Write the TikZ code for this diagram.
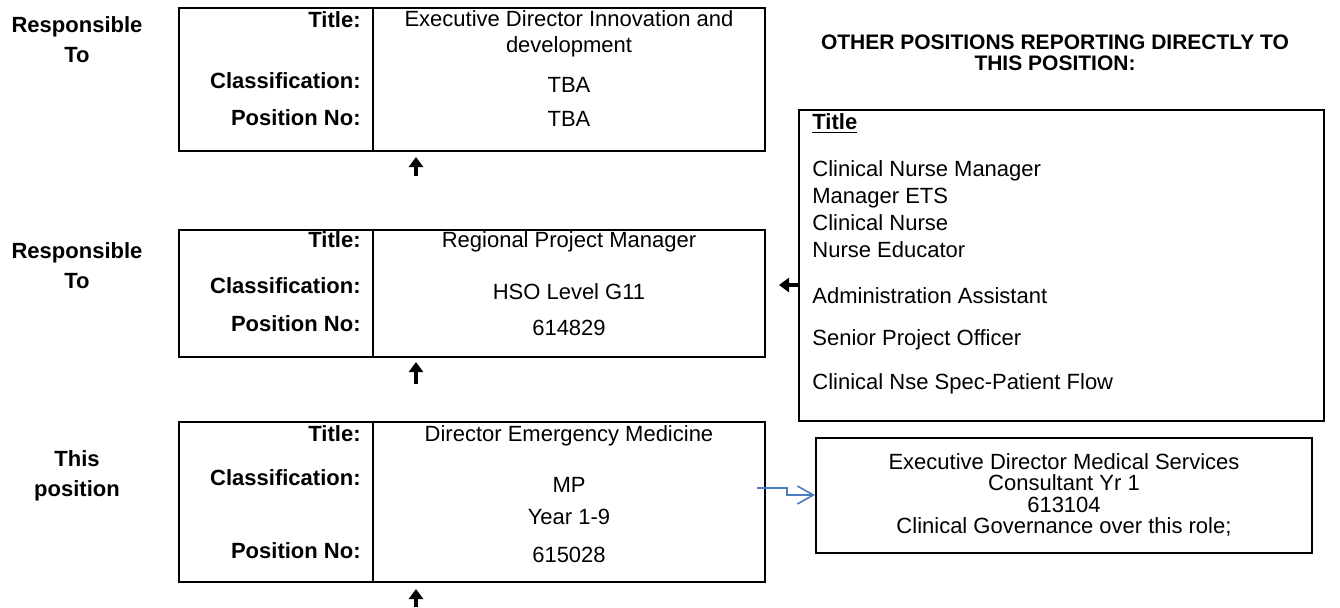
\documentclass[tikz,border=0pt]{standalone}
\usepackage{fontspec}
\setmainfont{Liberation Sans}
\usetikzlibrary{arrows.meta}
\newcommand{\pxu}{0.5pt}
\definecolor{linkblue}{RGB}{74,126,193}

\tikzset{
  frame/.style={line width=1pt},
  side/.style={font=\bfseries\fontsize{11}{15}\selectfont, align=center, inner sep=0pt},
  key/.style={font=\bfseries\fontsize{11}{13}\selectfont, anchor=east, inner sep=0pt},
  val/.style={font=\fontsize{11}{13}\selectfont, align=center, inner sep=0pt},
  item/.style={font=\fontsize{11}{13.5}\selectfont, anchor=west, align=left, inner sep=0pt},
  uparr/.style={line width=1.8pt, -{Triangle[width=7pt,length=5pt]}},
  link/.style={linkblue, line width=0.8pt, -{Straight Barb[width=9pt,length=8pt]}}
}

\begin{document}
\begin{tikzpicture}[x=\pxu,y=-\pxu]
			\useasboundingbox (0,0) rectangle (1340,607);
			
			\node[side] (resp1) at (77,40) {Responsible\\To};
			\draw[frame] (179,8) rectangle (765,151);
			\draw[frame] (373,8) -- (373,151);
			\node[key] (title1) at (361,20) {Title:};
			\node[key] (class1) at (361,81) {Classification:};
			\node[key] (posno1) at (361,118) {Position No:};
			\node[val] (tval1) at (569,34) {Executive Director Innovation and\\development};
			\node[val] (cval1) at (569,85) {TBA};
			\node[val] (pval1) at (569,119) {TBA};
			\coordinate (up1a) at (416,176);
			\coordinate (up1b) at (416,157);
			\draw[uparr] (up1a) -- (up1b);
			
			\node[side] (resp2) at (77,266) {Responsible\\To};
			\draw[frame] (179,230) rectangle (765,357);
			\draw[frame] (373,230) -- (373,357);
			\node[key] (title2) at (361,240) {Title:};
			\node[key] (class2) at (361,286) {Classification:};
			\node[key] (posno2) at (361,324) {Position No:};
			\node[val] (tval2) at (569,242) {Regional Project Manager};
			\node[val] (cval2) at (569,292) {HSO Level G11};
			\node[val] (pval2) at (569,328) {614829};
			\coordinate (up2a) at (416,384);
			\coordinate (up2b) at (416,362);
			\draw[uparr] (up2a) -- (up2b);
			
			\node[side] (this) at (77,476) {This\\position};
			\draw[frame] (179,422) rectangle (765,582);
			\draw[frame] (373,422) -- (373,582);
			\node[key] (title3) at (361,434) {Title:};
			\node[key] (class3) at (361,478) {Classification:};
			\node[key] (posno3) at (361,551) {Position No:};
			\node[val] (tval3) at (569,436) {Director Emergency Medicine};
			\node[val] (cval3) at (569,485) {MP};
			\node[val] (yval3) at (569,517) {Year 1-9};
			\node[val] (pval3) at (569,555) {615028};
			\coordinate (up3a) at (416,607);
			\coordinate (up3b) at (416,589);
			\draw[uparr] (up3a) -- (up3b);
			
			\node[side, font=\bfseries\fontsize{10.5}{10.5}\selectfont] (head) at (1055,53) {OTHER POSITIONS REPORTING DIRECTLY TO\\THIS POSITION:};
			\node[draw, frame, minimum width=525*\pxu, minimum height=311*\pxu] (others) at (1061.5,265.5) {};
			\node[item, font=\bfseries\fontsize{11}{13}\selectfont] (ttl) at (812,124) {\underline{Title}};
			\node[item] (nurses) at (812,209) {Clinical Nurse Manager\\Manager ETS\\Clinical Nurse\\Nurse Educator};
			\node[item] (admin) at (812,296) {Administration Assistant};
			\node[item] (spo) at (812,340) {Senior Project Officer};
			\node[item] (cnse) at (812,384) {Clinical Nse Spec-Patient Flow};
			\coordinate (left1) at (799,285);
			\draw[uparr] (left1) -- ++(-20,0);
			
			\node[draw, frame, align=center, font=\fontsize{11}{10.8}\selectfont, minimum width=496*\pxu, minimum height=115*\pxu] (med) at (1064,495) {Executive Director Medical Services\\Consultant Yr 1\\613104\\Clinical Governance over this role;};
			\coordinate (lnk) at (757,488);
			\draw[link] (lnk) -- ++(30,0) |- (med.west);
			
		\end{tikzpicture}
\end{document}
